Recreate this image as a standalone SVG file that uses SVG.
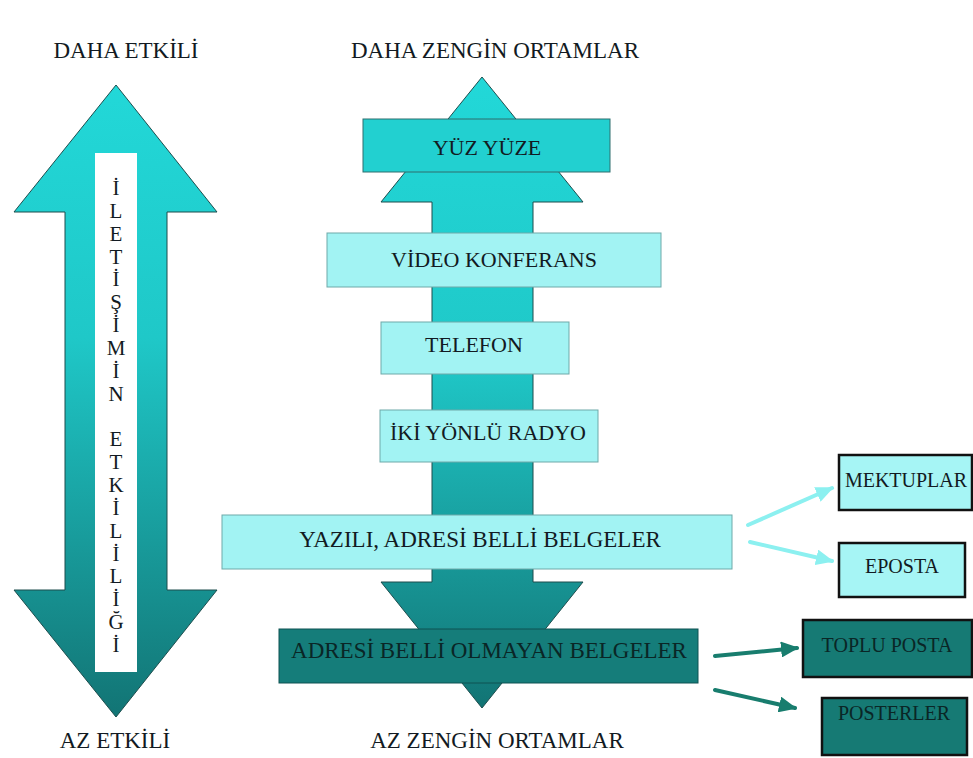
<svg xmlns="http://www.w3.org/2000/svg" width="973" height="758" viewBox="0 0 973 758">
<style>
text{font-family:"Liberation Serif","Times New Roman",serif;fill:#121a22;}
.hdr{font-size:23px;text-anchor:middle;}
.lbl{font-size:22px;text-anchor:middle;}
.lbl23{font-size:23px;text-anchor:middle;}
.sm{font-size:20px;text-anchor:middle;}
.light{fill:#a2f3f3;stroke:#6fa9a9;stroke-width:1;}
.cyan{fill:#22d0d0;stroke:#2f6f6f;stroke-width:1;}
.dark{fill:#157d7a;stroke:#0f5252;stroke-width:1;}
.lightB{fill:#a6f5f5;stroke:#111;stroke-width:2.5;}
.darkB{fill:#167a74;stroke:#111;stroke-width:2.5;}
.darktxt{fill:#0a2626;}
.vt{font-size:21px;text-anchor:middle;}
</style>
<defs>
<linearGradient id="gL" gradientUnits="userSpaceOnUse" x1="0" y1="85" x2="0" y2="717">
<stop offset="0" stop-color="#22d8d8"/>
<stop offset="0.4" stop-color="#1fc8c8"/>
<stop offset="1" stop-color="#127474"/>
</linearGradient>
<linearGradient id="gM" gradientUnits="userSpaceOnUse" x1="0" y1="77" x2="0" y2="708">
<stop offset="0" stop-color="#22d8d8"/>
<stop offset="0.45" stop-color="#1fc8c8"/>
<stop offset="1" stop-color="#127474"/>
</linearGradient>
<marker id="mc" markerUnits="userSpaceOnUse" markerWidth="18" markerHeight="16" refX="16" refY="8" orient="auto">
<path d="M0,0 L18,8 L0,16 Z" fill="#8cf0f0"/>
</marker>
<marker id="md" markerUnits="userSpaceOnUse" markerWidth="18" markerHeight="16" refX="16" refY="8" orient="auto">
<path d="M0,0 L18,8 L0,16 Z" fill="#187d6e"/>
</marker>
</defs>
<rect width="973" height="758" fill="#ffffff"/>

<g id="labels">
<text class="hdr" x="126" y="58">DAHA ETKİLİ</text>
<text class="hdr" x="495" y="58">DAHA ZENGİN ORTAMLAR</text>
<text class="hdr" x="115" y="748">AZ ETKİLİ</text>
<text class="hdr" x="497" y="748">AZ ZENGİN ORTAMLAR</text>
</g>

<g id="left-arrow">
<polygon points="116,85 217,212 167,212 167,590 217,590 116,717 14,590 65,590 65,212 14,212" fill="url(#gL)" stroke="#1d4d4d" stroke-width="1"/>
<rect x="95" y="153" width="42" height="519" fill="#ffffff"/>
<text class="vt" x="116" y="195"><tspan x="116">İ</tspan><tspan x="116" dy="22.85">L</tspan><tspan x="116" dy="22.85">E</tspan><tspan x="116" dy="22.85">T</tspan><tspan x="116" dy="22.85">İ</tspan><tspan x="116" dy="22.85">Ş</tspan><tspan x="116" dy="22.85">İ</tspan><tspan x="116" dy="22.85">M</tspan><tspan x="116" dy="22.85">İ</tspan><tspan x="116" dy="22.85">N</tspan><tspan x="116" dy="45.7">E</tspan><tspan x="116" dy="22.85">T</tspan><tspan x="116" dy="22.85">K</tspan><tspan x="116" dy="22.85">İ</tspan><tspan x="116" dy="22.85">L</tspan><tspan x="116" dy="22.85">İ</tspan><tspan x="116" dy="22.85">L</tspan><tspan x="116" dy="22.85">İ</tspan><tspan x="116" dy="22.85">Ğ</tspan><tspan x="116" dy="22.85">İ</tspan></text>
</g>

<g id="middle-arrow">
<polygon points="482,77 583,202 533,202 533,582 583,582 482,708 381,582 432,582 432,202 381,202" fill="url(#gM)" stroke="#1d4d4d" stroke-width="1"/>
</g>

<g id="yuz-yuze">
<rect class="cyan" x="363" y="119" width="247" height="53"/>
<text class="lbl" x="487" y="155">YÜZ YÜZE</text>
</g>
<g id="video-konferans">
<rect class="light" x="327" y="233" width="334" height="54"/>
<text class="lbl" x="494" y="267">VİDEO KONFERANS</text>
</g>
<g id="telefon">
<rect class="light" x="381" y="322" width="188" height="52"/>
<text class="lbl" x="474" y="352">TELEFON</text>
</g>
<g id="iki-yonlu-radyo">
<rect class="light" x="380" y="410" width="218" height="52"/>
<text class="lbl" x="488" y="440">İKİ YÖNLÜ RADYO</text>
</g>
<g id="yazili">
<rect class="light" x="222" y="515" width="510" height="54"/>
<text class="lbl23" x="480" y="547">YAZILI, ADRESİ BELLİ BELGELER</text>
</g>
<g id="adresi-belli-olmayan">
<rect class="dark" x="279" y="629" width="419" height="54"/>
<text class="lbl23 darktxt" x="489" y="658">ADRESİ BELLİ OLMAYAN BELGELER</text>
</g>

<g id="mektuplar">
<rect class="lightB" x="839" y="455" width="133" height="55"/>
<text class="sm" x="906" y="487">MEKTUPLAR</text>
</g>
<g id="eposta">
<rect class="lightB" x="839" y="543" width="126" height="54"/>
<text class="sm" x="902" y="573">EPOSTA</text>
</g>
<g id="toplu-posta">
<rect class="darkB" x="803" y="620" width="169" height="57"/>
<text class="sm darktxt" x="887" y="652">TOPLU POSTA</text>
</g>
<g id="posterler">
<rect class="darkB" x="822" y="698" width="145" height="57"/>
<text class="sm darktxt" x="894" y="720">POSTERLER</text>
</g>

<g id="connectors" stroke-width="4" fill="none" stroke-linecap="round">
<line x1="748" y1="525" x2="832" y2="488" stroke="#8cf0f0" marker-end="url(#mc)"/>
<line x1="750" y1="542" x2="832" y2="561" stroke="#8cf0f0" marker-end="url(#mc)"/>
<line x1="715" y1="656" x2="797" y2="648" stroke="#187d6e" marker-end="url(#md)"/>
<line x1="715" y1="690" x2="795" y2="708" stroke="#187d6e" marker-end="url(#md)"/>
</g>
</svg>
